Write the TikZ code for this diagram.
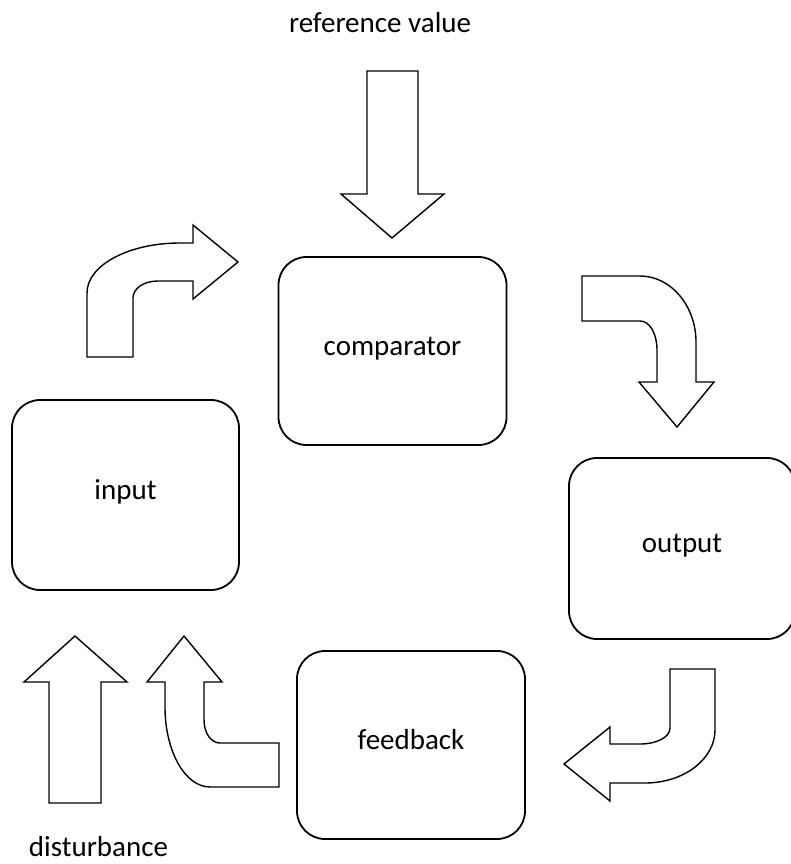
\documentclass[tikz,border=0pt]{standalone}
\usepackage{fontspec}
\setmainfont{Carlito}

\tikzset{
  blk/.style={draw, line width=1.8pt, rounded corners=28pt, minimum width=228pt, minimum height=188pt,
    text height=14pt, text depth=6pt, font=\fontsize{29}{35}\selectfont},
  blkarrow/.style={draw, fill=white, line width=1.4pt, line join=miter},
  lbl/.style={anchor=base, font=\fontsize{29}{35}\selectfont}
}

\begin{document}
\begin{tikzpicture}[x=1pt, y=-1pt]

\useasboundingbox (0,0) rectangle (790,864);

\node [blk] (comparator) at (392.5,351) {comparator};
\node [blk, minimum height=190pt, minimum width=227pt] (input) at (125.5,495) {input};
\node [blk, minimum height=181pt, minimum width=226pt] (output) at (682,548.5) {output};
\node [blk] (feedback) at (411,745) {feedback};

\node [lbl] (refval) at (380,33) {reference value};
\node [lbl] (disturb) at (98.5,856) {disturbance};

% straight arrows
\draw [blkarrow] (367,71) -- (418,71) -- (418,194) -- (444,194) -- (392,238) -- (341,194) -- (367,194) -- cycle;
\draw [blkarrow] (49,803) -- (101,803) -- (101,682) -- (127,682) -- (75,636) -- (24,682) -- (49,682) -- cycle;

% bent arrows
\draw [blkarrow] (87,357) -- (87,293) .. controls (87,265) and (129,243) .. (180,243) -- (193,243) -- (193,225)
  -- (238,262) -- (193,299) -- (193,281) -- (158,281) .. controls (143,281) and (133,289) .. (133,298) -- (133,357) -- cycle;
\draw [blkarrow] (582,276) -- (640,276) .. controls (671,276) and (696,306) .. (696,342) -- (696,382) -- (714,382)
  -- (677,427) -- (639,382) -- (657,382) -- (657,350) .. controls (657,334) and (650,321) .. (640,321) -- (582,321) -- cycle;
\draw [blkarrow] (670,669) -- (715,669) -- (715,730) .. controls (715,759) and (684,783) .. (645,783) -- (610,783)
  -- (610,801) -- (564,764) -- (610,727) -- (610,744) -- (640,744) .. controls (657,744) and (670,737) .. (670,728) -- cycle;
\draw [blkarrow] (184,636) -- (222,682) -- (204,682) -- (204,720) .. controls (204,733) and (211,743) .. (220,743)
  -- (279,743) -- (279,787) -- (210,787) .. controls (185,787) and (165,751) .. (165,707) -- (165,682) -- (147,682) -- cycle;

\end{tikzpicture}
\end{document}
